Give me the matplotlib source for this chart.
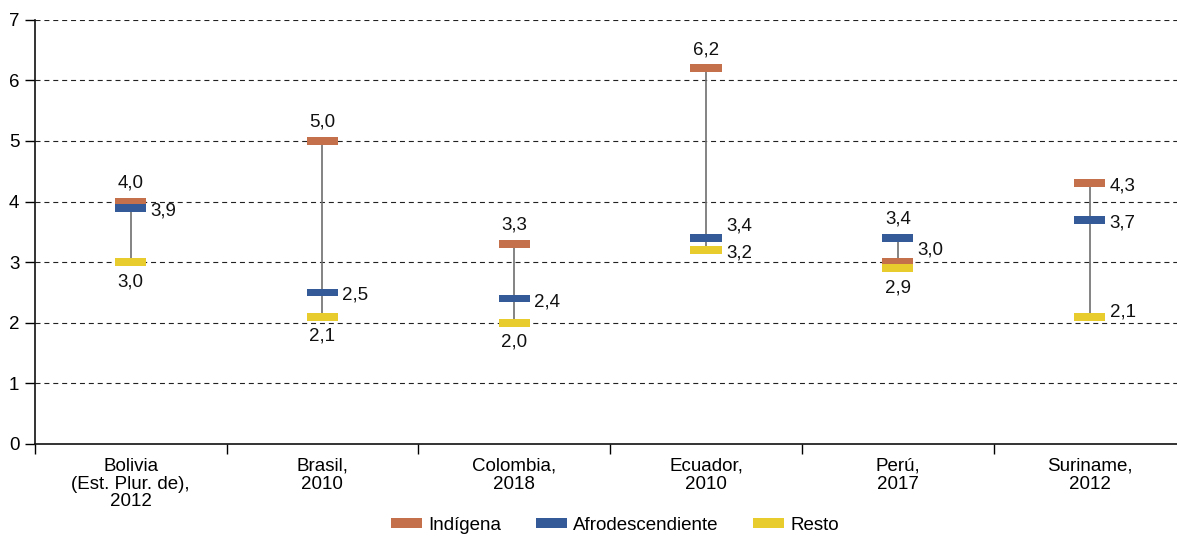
import matplotlib
matplotlib.use("Agg")
import matplotlib.pyplot as plt
from matplotlib.patches import Patch
import numpy as np

plt.rcParams['font.family'] = ['Liberation Sans', 'DejaVu Sans']

categories = ["Bolivia\n(Est. Plur. de),\n2012", "Brasil,\n2010", "Colombia,\n2018",
              "Ecuador,\n2010", "Perú,\n2017", "Suriname,\n2012"]
indigena = [4.0, 5.0, 3.3, 6.2, 3.0, 4.3]
afro = [3.9, 2.5, 2.4, 3.4, 3.4, 3.7]
resto = [3.0, 2.1, 2.0, 3.2, 2.9, 2.1]
series_names = ["Indígena", "Afrodescendiente", "Resto"]
y_ticks = [0, 1, 2, 3, 4, 5, 6, 7]

colors = ["#C4704A", "#345A97", "#E8CB2C"]
FS = 13.5

# label placement per series/category: (dx px, dy px, ha, va)
A = (0, 14, 'center', 'baseline')
B = (0, -11, 'center', 'top')
R = (20, -3, 'left', 'center')
RU = (20, 12, 'left', 'center')
RS = (20, 5, 'left', 'center')
label_pos = [
    [A, A, A, A, RU, R],      # Indígena
    [R, R, R, RU, A, R],      # Afro
    [B, B, B, R, B, RS],      # Resto
]

fig = plt.figure(figsize=(11.77, 5.36), dpi=100)
W, H = 1177, 536
left, right, top, bottom = 34.7, 1177, 19.7, 444
ax = fig.add_axes([left / W, 1 - bottom / H, (right - left) / W, (bottom - top) / H])

cell = 191.8
ax.set_xlim(0, (right - left) / cell)
ax.set_ylim(0, 7)

x = np.arange(len(categories)) + 0.5
data = [indigena, afro, resto]
lo = np.minimum.reduce(data)
hi = np.maximum.reduce(data)
ax.vlines(x, lo, hi, color="#6e6e6e", lw=1.2, zorder=2)

bw = 0.162
bh = 0.13
for k, (vals, c) in enumerate(zip(data, colors)):
    v = np.array(vals)
    ax.bar(x, bh, bottom=v - bh / 2, width=bw, color=c, zorder=3 + k, linewidth=0)
    for i, val in enumerate(vals):
        dx, dy, ha, va = label_pos[k][i]
        ax.annotate(f"{val:.1f}".replace(".", ","), (x[i], val),
                    xytext=(dx, dy), textcoords='offset pixels',
                    ha=ha, va=va, fontsize=FS, color="#111111", zorder=10)

ax.set_yticks(y_ticks)
ax.set_yticklabels([str(t) for t in y_ticks], fontsize=FS)
for t in y_ticks[1:]:
    ax.axhline(t, color="#222222", lw=0.8, ls=(0, (4.5, 3.5)), zorder=1)

ax.set_xticks(np.arange(0, 6))
ax.set_xticklabels([])
ax.set_xticks(x, minor=True)
ax.set_xticklabels(categories, minor=True, fontsize=FS, linespacing=1.05)
ax.tick_params(axis='x', which='minor', length=0, pad=10)
ax.tick_params(axis='x', which='major', length=7, width=1, direction='out')
ax.tick_params(axis='y', length=7, width=1, direction='out', pad=4)

for s in ['top', 'right']:
    ax.spines[s].set_visible(False)
for s in ['left', 'bottom']:
    ax.spines[s].set_linewidth(1.2)
    ax.spines[s].set_color("#111111")

handles = [Patch(facecolor=c, edgecolor='none', label=n) for c, n in zip(colors, series_names)]
fig.legend(handles=handles, loc='center', bbox_to_anchor=(615 / W, 1 - 525 / H), ncol=3,
           frameon=False, fontsize=FS, handlelength=1.65, handleheight=0.43,
           handletextpad=0.32, columnspacing=1.87, borderpad=0, borderaxespad=0)

fig.savefig("out.png", dpi=100)
